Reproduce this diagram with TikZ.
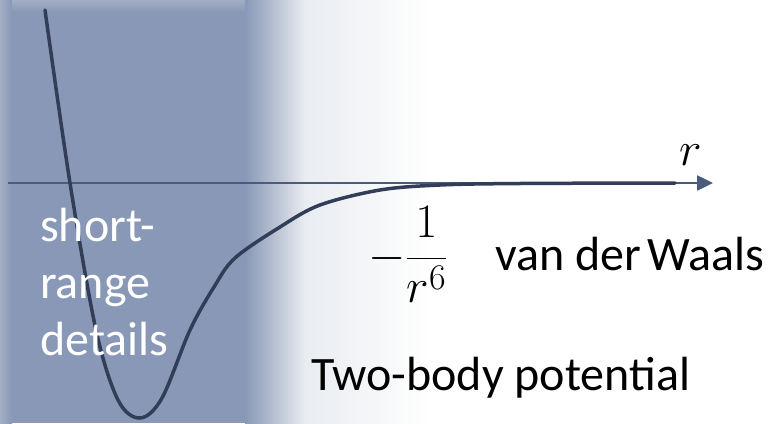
\RequirePackage{fix-cm}
\documentclass[tikz,border=0pt]{standalone}
\usepackage{fontspec}
\setmainfont{Carlito}
\usepackage{tikz}
\usetikzlibrary{arrows.meta}
\definecolor{bandcol}{HTML}{8898B6}
\definecolor{edgecol}{HTML}{A3AEC6}
\definecolor{fadecol}{HTML}{E9ECF1}
\definecolor{curvecol}{HTML}{323E58}
\definecolor{axiscol}{HTML}{4B5B7E}
\DeclareMathSizes{48}{48}{36}{28}
\tikzset{
  lbl/.style={inner sep=0pt, font=\fontsize{48}{57}\selectfont},
  potential/.style={curvecol, line width=3.5pt, line join=round, line cap=round}
}
\begin{document}
\begin{tikzpicture}[x=1pt,y=-1pt]
\useasboundingbox (0,0) rectangle (770,423);
% shaded band for the short range part
\fill[white] (0,0) rectangle (770,423);
\fill[bandcol] (0,0) rectangle (245,423);
\shade[left color=bandcol, right color=fadecol] (245,0) rectangle (305,423);
\shade[left color=fadecol, right color=white] (305,0) rectangle (430,423);
\shade[left color=edgecol, right color=bandcol] (0,0) rectangle (12,423);
\shade[top color=edgecol, bottom color=bandcol] (12,0) rectangle (245,12);
% axis
\coordinate (o) at (8,183);
\coordinate (rend) at (713,183);
\draw[axiscol, line width=2.5pt, -{Triangle[length=16pt,width=15pt]}] (o) -- (rend);
\node[lbl, anchor=base] (rlab) at (691,165) {$r$};
% the potential
\draw[potential] plot[smooth, tension=0.55] coordinates {
  (45,10) (70,183) (96,330) (118,400) (140,418) (162,398) (190,330)
  (214,287) (235,258) (280,227) (320,205) (380,190) (440,185) (520,183.5) (675,183)};
% labels
\node[lbl, anchor=base west] (frac) at (368,270) {$\displaystyle -\frac{1}{r^6}$};
\node[lbl, anchor=base west] (vdw) at (495,270) {van der\hspace{0.14em}Waals};
\node[lbl, anchor=base west] (twobody) at (311,390) {Two-body potential};
\node[lbl, anchor=base west, align=left, text=white] (short) at (40,355) {short-\\range\\details};
\end{tikzpicture}
\end{document}
